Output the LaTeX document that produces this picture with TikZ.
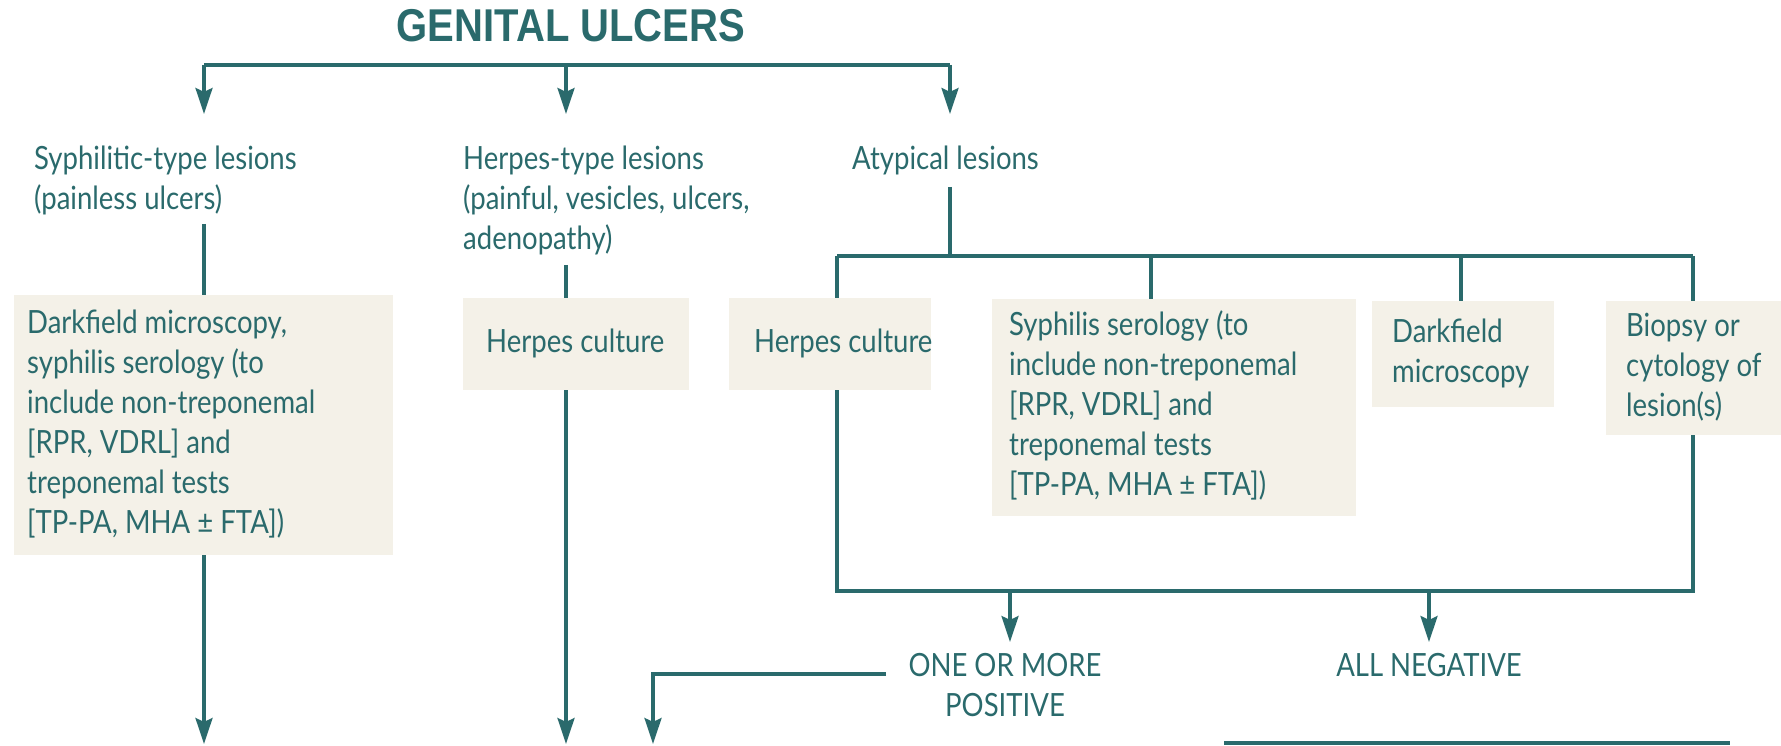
\documentclass[tikz,border=0pt]{standalone}
\usepackage{fontspec}
\setmainfont{Lato}[FakeStretch=0.86]
\newfontfamily\headfont{Liberation Sans}[FakeStretch=0.87]
\usetikzlibrary{arrows.meta}

\definecolor{ink}{HTML}{2A6A6C}
\definecolor{paper}{HTML}{F4F1E8}

% text block of fixed width W with a left indent
\newcommand\paneltext[3]{\makebox[#1][l]{\hspace*{#2}\begin{tabular}{@{}l@{}}#3\end{tabular}}}
% multi-line text hanging from the first baseline
\newcommand\textlines[1]{\begin{tabular}[t]{@{}l@{}}#1\end{tabular}}
\newcommand\textlinesc[1]{\begin{tabular}[t]{@{}c@{}}#1\end{tabular}}

\tikzset{
  link/.style={draw=ink, line width=3.4pt, line join=miter},
  arr/.style={link, -{Stealth[length=26pt, width=17pt, inset=4pt]}},
  body/.style={text=ink, font=\fontsize{32pt}{40pt}\selectfont, inner sep=0pt},
  panel/.style={body, fill=paper, anchor=north west},
  caption/.style={body, anchor=base west},
  outcome/.style={body, anchor=base},
}

\begin{document}
\begin{tikzpicture}[x=1pt, y=-1pt]
\useasboundingbox (0,0) rectangle (1781,746);

% heading
\node[text=ink, inner sep=0pt, anchor=base, font=\headfont\bfseries\fontsize{46pt}{50pt}\selectfont]
  (title) at (571,42) {GENITAL ULCERS};

% first split
\coordinate (busL) at (204,65);
\coordinate (busM) at (566,65);
\coordinate (busR) at (950,65);
\coordinate (tipL) at (204,114);
\coordinate (tipM) at (566,114);
\coordinate (tipR) at (950,114);
\draw[link] (busL) -- (busR);
\draw[arr] (busL) -- (tipL);
\draw[arr] (busM) -- (tipM);
\draw[arr] (busR) -- (tipR);

% lesion types
\node[caption] (syph) at (34,170) {\textlines{Syphilitic-type lesions\\(painless ulcers)}};
\node[caption] (herp) at (463,170) {\textlines{Herpes-type lesions\\(painful, vesicles, ulcers,\\adenopathy)}};
\node[caption] (atyp) at (852,170) {Atypical lesions};

% tests
\node[panel, minimum height=260pt] (dfm) at (14,295)
  {\paneltext{379pt}{13pt}{Darkfield microscopy,\\syphilis serology (to\\include non-treponemal\\{[RPR, VDRL]} and\\treponemal tests\\{[TP-PA, MHA ± FTA])}}};
\node[panel, minimum height=92pt] (hc) at (463,298)
  {\paneltext{226pt}{23pt}{Herpes culture}};
\node[panel, minimum height=92pt] (hcb) at (729,298)
  {\paneltext{202pt}{25pt}{Herpes culture}};
\node[panel, minimum height=217pt] (ser) at (992,299)
  {\paneltext{364pt}{17pt}{Syphilis serology (to\\include non-treponemal\\{[RPR, VDRL]} and\\treponemal tests\\{[TP-PA, MHA ± FTA])}}};
\node[panel, minimum height=106pt] (dfb) at (1372,301)
  {\paneltext{182pt}{20pt}{Darkfield\\microscopy}};
\node[panel, minimum height=134pt] (bio) at (1606,301)
  {\paneltext{175pt}{20pt}{Biopsy or\\cytology of\\lesion(s)}};

% syphilitic branch
\coordinate (sy) at (204,224);
\coordinate (endL) at (204,744);
\draw[link] (sy) -- (sy |- dfm.north);
\draw[arr] (sy |- dfm.south) -- (endL);

% herpes branch
\coordinate (hx) at (566,265);
\coordinate (endM) at (566,744);
\draw[link] (hx) -- (hx |- hc.north);
\draw[arr] (hx |- hc.south) -- (endM);

% atypical branch
\coordinate (ax) at (950,187);
\coordinate (abus) at (950,256);
\coordinate (a1) at (837,256);
\coordinate (a2) at (1151,256);
\coordinate (a3) at (1461,256);
\coordinate (a4) at (1693,256);
\draw[link] (ax) -- (abus);
\draw[link] (a1) -- (a4);
\draw[link] (a1) -- (a1 |- hcb.north);
\draw[link] (a2) -- (a2 |- ser.north);
\draw[link] (a3) -- (a3 |- dfb.north);
\draw[link] (a4) -- (a4 |- bio.north);

% results bracket
\coordinate (c1) at (837,591);
\coordinate (c4) at (1693,591);
\draw[link] (a1 |- hcb.south) -- (c1) -- (c4) -- (a4 |- bio.south);
\coordinate (p1) at (1010,591);
\coordinate (p2) at (1010,642);
\coordinate (n1) at (1429,591);
\coordinate (n2) at (1429,642);
\draw[arr] (p1) -- (p2);
\draw[arr] (n1) -- (n2);

\node[outcome] (pos) at (1005,676) {\textlinesc{ONE OR MORE\\POSITIVE}};
\node[outcome] (neg) at (1429,676) {ALL NEGATIVE};

% positive result turns back left
\coordinate (q1) at (886,674);
\coordinate (q2) at (653,674);
\coordinate (q3) at (653,744);
\draw[arr] (q1) -- (q2) -- (q3);

% rule under the negative outcome
\coordinate (rL) at (1224,743);
\coordinate (rR) at (1730,743);
\draw[link] (rL) -- (rR);
\end{tikzpicture}
\end{document}
